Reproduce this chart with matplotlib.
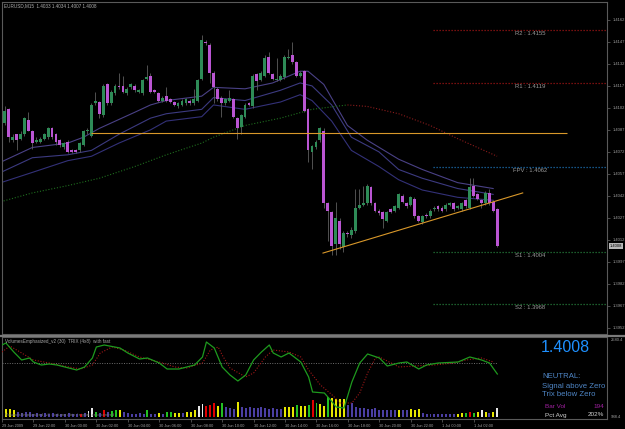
import numpy as np
import matplotlib
matplotlib.use('Agg')
import matplotlib.pyplot as plt
from matplotlib.lines import Line2D

plt.rcParams['font.family'] = ['Liberation Sans', 'DejaVu Sans']

# EURUSD M15, bar 0 = 29 Jun 2009 20:00
opens = [1.4083, 1.4092, 1.4101, 1.4080, 1.4084, 1.4081, 1.4084, 1.4094, 1.4086, 1.4079,
         1.4079, 1.4081, 1.4082, 1.4088, 1.4084, 1.4080, 1.4075, 1.4079, 1.4073, 1.4073,
         1.4073, 1.4077, 1.4086, 1.4083, 1.4105, 1.4106, 1.4097, 1.4118, 1.4105, 1.4112,
         1.4117, 1.4117, 1.4112, 1.4116, 1.4117, 1.4113, 1.4112, 1.4122, 1.4124, 1.4114,
         1.4112, 1.4107, 1.4110, 1.4108, 1.4106, 1.4103, 1.4104, 1.4105, 1.4107, 1.4105,
         1.4107, 1.4122, 1.4147, 1.4145, 1.4126, 1.4115, 1.4109, 1.4105, 1.4107, 1.4108,
         1.4095, 1.4089, 1.4096, 1.4105, 1.4103, 1.4125, 1.4121, 1.4124, 1.4137, 1.4125,
         1.4121, 1.4121, 1.4123, 1.4136, 1.4138, 1.4133, 1.4124, 1.4127, 1.4101, 1.4072,
         1.4075, 1.4080, 1.4086, 1.4037, 1.4031, 1.4009, 1.4025, 1.4007, 1.4017, 1.4015,
         1.4018, 1.4034, 1.4036, 1.4037, 1.4048, 1.4037, 1.4032, 1.4031, 1.4025, 1.4033,
         1.4032, 1.4034, 1.4042, 1.4037, 1.4036, 1.4040, 1.4028, 1.4024, 1.4029, 1.4028,
         1.4033, 1.4035, 1.4034, 1.4033, 1.4036, 1.4037, 1.4034, 1.4033, 1.4039, 1.4034,
         1.4049, 1.4043, 1.4039, 1.4037, 1.4044, 1.4038, 1.4033]
highs = [1.4093, 1.4103, 1.4102, 1.4084, 1.4084, 1.4086, 1.4096, 1.4099, 1.4087, 1.4082,
         1.4082, 1.4085, 1.4089, 1.4089, 1.4085, 1.4081, 1.4079, 1.4080, 1.4074, 1.4074,
         1.4079, 1.4087, 1.4088, 1.4105, 1.4113, 1.4107, 1.4118, 1.4119, 1.4114, 1.4118,
         1.4126, 1.4124, 1.4116, 1.4119, 1.4118, 1.4115, 1.4122, 1.4131, 1.4126, 1.4115,
         1.4113, 1.4110, 1.4116, 1.4109, 1.4107, 1.4106, 1.4108, 1.4109, 1.4108, 1.4115,
         1.4122, 1.4152, 1.4148, 1.4146, 1.4127, 1.4116, 1.4110, 1.4109, 1.4114, 1.4109,
         1.4096, 1.4098, 1.4105, 1.4106, 1.4125, 1.4126, 1.4127, 1.4138, 1.4140, 1.4126,
         1.4136, 1.4125, 1.4138, 1.4142, 1.4147, 1.4134, 1.4127, 1.4128, 1.4102, 1.4077,
         1.4080, 1.4089, 1.4088, 1.4038, 1.4032, 1.4038, 1.4027, 1.4018, 1.4018, 1.4021,
         1.4047, 1.4047, 1.4049, 1.4050, 1.4049, 1.4038, 1.4033, 1.4032, 1.4032, 1.4034,
         1.4036, 1.4044, 1.4043, 1.4038, 1.4042, 1.4041, 1.4029, 1.4029, 1.4030, 1.4033,
         1.4035, 1.4036, 1.4035, 1.4037, 1.4038, 1.4038, 1.4036, 1.4038, 1.4040, 1.4054,
         1.4054, 1.4044, 1.4040, 1.4045, 1.4047, 1.4039, 1.4034]
lows = [1.4082, 1.4090, 1.4079, 1.4079, 1.4073, 1.4080, 1.4083, 1.4086, 1.4074, 1.4078,
        1.4078, 1.4080, 1.4081, 1.4081, 1.4077, 1.4075, 1.4074, 1.4071, 1.4071, 1.4071,
        1.4072, 1.4076, 1.4084, 1.4082, 1.4104, 1.4095, 1.4096, 1.4104, 1.4104, 1.4111,
        1.4115, 1.4112, 1.4111, 1.4115, 1.4113, 1.4112, 1.4111, 1.4121, 1.4112, 1.4112,
        1.4106, 1.4106, 1.4106, 1.4105, 1.4103, 1.4102, 1.4103, 1.4104, 1.4104, 1.4104,
        1.4106, 1.4121, 1.4145, 1.4119, 1.4105, 1.4107, 1.4096, 1.4104, 1.4106, 1.4095,
        1.4081, 1.4084, 1.4095, 1.4103, 1.4102, 1.4114, 1.4120, 1.4123, 1.4125, 1.4121,
        1.4120, 1.4120, 1.4122, 1.4135, 1.4132, 1.4123, 1.4123, 1.4099, 1.4065, 1.4060,
        1.4074, 1.4079, 1.4034, 1.4011, 1.4002, 1.4002, 1.4006, 1.4004, 1.4014, 1.4013,
        1.4017, 1.4033, 1.4035, 1.4036, 1.4036, 1.4031, 1.4029, 1.4020, 1.4024, 1.4030,
        1.4031, 1.4033, 1.4037, 1.4034, 1.4035, 1.4027, 1.4024, 1.4023, 1.4027, 1.4027,
        1.4032, 1.4032, 1.4031, 1.4032, 1.4035, 1.4032, 1.4033, 1.4032, 1.4034, 1.4033,
        1.4041, 1.4039, 1.4034, 1.4036, 1.4036, 1.4031, 1.4007]
closes = [1.4092, 1.4100, 1.4082, 1.4082, 1.4080, 1.4084, 1.4095, 1.4086, 1.4078, 1.4080,
          1.4081, 1.4084, 1.4088, 1.4082, 1.4079, 1.4077, 1.4078, 1.4072, 1.4072, 1.4072,
          1.4078, 1.4086, 1.4087, 1.4104, 1.4107, 1.4098, 1.4117, 1.4105, 1.4113, 1.4117,
          1.4116, 1.4113, 1.4115, 1.4118, 1.4114, 1.4114, 1.4121, 1.4123, 1.4113, 1.4113,
          1.4107, 1.4109, 1.4107, 1.4106, 1.4104, 1.4105, 1.4107, 1.4108, 1.4105, 1.4108,
          1.4121, 1.4148, 1.4146, 1.4126, 1.4116, 1.4108, 1.4105, 1.4108, 1.4109, 1.4096,
          1.4088, 1.4097, 1.4104, 1.4104, 1.4124, 1.4120, 1.4126, 1.4136, 1.4126, 1.4122,
          1.4122, 1.4124, 1.4137, 1.4137, 1.4133, 1.4124, 1.4126, 1.4100, 1.4073, 1.4076,
          1.4079, 1.4088, 1.4037, 1.4032, 1.4008, 1.4027, 1.4009, 1.4017, 1.4016, 1.4019,
          1.4034, 1.4036, 1.4037, 1.4049, 1.4037, 1.4032, 1.4030, 1.4026, 1.4031, 1.4031,
          1.4035, 1.4043, 1.4038, 1.4035, 1.4041, 1.4028, 1.4025, 1.4028, 1.4028, 1.4032,
          1.4034, 1.4033, 1.4032, 1.4036, 1.4037, 1.4033, 1.4035, 1.4037, 1.4035, 1.4048,
          1.4042, 1.4040, 1.4037, 1.4044, 1.4037, 1.4032, 1.4008]

# three short moving averages (bar index, price)
ma1_x = [0, 8, 17, 21, 25, 34, 38, 42, 51, 54, 62, 69, 76, 78, 82, 88, 93, 101, 107, 116, 125]
ma1_y = [1.4065, 1.4075, 1.4078, 1.4082, 1.4088, 1.4099, 1.4104, 1.4107, 1.4110, 1.4116, 1.4115,
         1.4119, 1.4127, 1.4127, 1.4118, 1.4090, 1.4080, 1.4067, 1.4060, 1.4051, 1.4047]
ma2_x = [0, 8, 17, 23, 30, 38, 42, 51, 54, 62, 71, 76, 79, 84, 89, 96, 101, 107, 116, 125]
ma2_y = [1.4058, 1.4068, 1.4070, 1.4073, 1.4084, 1.4095, 1.4098, 1.4101, 1.4109, 1.4107,
         1.4114, 1.4119, 1.4117, 1.4104, 1.4082, 1.4072, 1.4060, 1.4054, 1.4047, 1.4043]
ma3_x = [0, 8, 17, 23, 30, 38, 42, 51, 54, 62, 71, 76, 79, 84, 89, 96, 101, 107, 116, 125]
ma3_y = [1.4051, 1.4058, 1.4066, 1.4069, 1.4078, 1.4087, 1.4093, 1.4096, 1.4104, 1.4101,
         1.4106, 1.4111, 1.4107, 1.4093, 1.4073, 1.4062, 1.4053, 1.4046, 1.4041, 1.4039]

# long moving average: rising part (green) and falling part (red)
sma_up_x = [0, 8, 17, 25, 34, 42, 51, 54, 62, 71, 79, 85, 88]
sma_up_y = [1.4038, 1.4044, 1.4049, 1.4054, 1.4062, 1.4070, 1.4078, 1.4082, 1.4090, 1.4095,
            1.4101, 1.4103, 1.4104]
sma_dn_x = [88, 93, 101, 109, 116, 126]
sma_dn_y = [1.4104, 1.4103, 1.4098, 1.4090, 1.4081, 1.4069]

# drawn lines
hline_price = 1.4085
hline_from, hline_to = 23, 143.7
trend_x = [81.8, 132.5]
trend_y = [1.4003, 1.4044]

pivot_names = ['R2', 'R1', 'FPV', 'S1', 'S2']
pivot_vals = [1.4155, 1.4119, 1.4062, 1.4004, 1.3968]

price_ticks = [1.4162, 1.4147, 1.4132, 1.4117, 1.4102, 1.4087, 1.4072, 1.4057,
               1.4042, 1.4027, 1.4012, 1.3997, 1.3982, 1.3967, 1.3952]

volumes = [151, 172, 172, 151, 108, 86, 108, 108, 65, 86, 65, 86, 65, 86, 65, 65, 65, 86, 65, 65,
           65, 86, 129, 194, 108, 86, 151, 108, 129, 151, 151, 108, 86, 65, 65, 86, 65, 151, 65, 65,
           86, 65, 108, 108, 86, 86, 86, 108, 108, 151, 237, 280, 237, 258, 301, 237, 301, 215, 194, 172,
           323, 215, 194, 215, 194, 194, 215, 194, 172, 194, 172, 172, 215, 215, 215, 258, 237, 237, 258, 366,
           301, 280, 237, 430, 409, 387, 387, 387, 258, 301, 215, 194, 194, 172, 172, 194, 151, 151, 151, 151,
           151, 151, 151, 151, 172, 151, 172, 86, 65, 65, 65, 65, 65, 65, 65, 65, 65, 86, 86, 108,
           86, 108, 151, 108, 86, 108, 194]
vol_class = ("byyy" + "b" * 16 + "r" + "b" + "ww" + "gbrbggy" + "bbbbbb" + "gbby" + "bggyyb"
             + "yyy" + "ww" + "rrr" + "yg" + "bbb" + "y" + "b" * 11 + "yyy" + "gy" + "ygrgyy" + "g"
             + "yyyy" + "b" * 13 + "ybbyyy" + "b" * 9 + "yygrgywybyw")

trix_x = [0, 1, 3, 5, 7, 8, 10, 12, 14, 17, 19, 21, 23, 24, 26, 30, 32, 35, 37, 40,
          42, 45, 49, 51, 52, 54, 56, 58, 60, 62, 64, 66, 68, 69, 71, 73, 76, 78, 79, 82,
          84, 85, 87, 89, 91, 93, 96, 98, 101, 103, 106, 108, 111, 116, 119, 122, 124, 126]
trix_y = [1.8, 2.0, 1.1, 0.3, 0.5, 0.1, -0.2, -0.1, -0.2, -0.5, -0.7, -0.4, 0.5, 1.6, 1.8, 1.5, 1.0, 0.4, 0.5, 0.0,
          -0.6, -0.6, -0.2, 0.6, 2.1, 1.5, -0.4, -1.2, -1.8, -1.2, 0.3, 1.1, 1.8, 1.0, 0.6, 1.0, 0.1, -1.4, -2.9, -3.0,
          -3.9, -4.4, -4.5, -1.9, 0.0, 0.9, 0.5, -0.3, 0.0, 0.1, -0.6, -0.2, 0.0, 0.1, 0.6, 0.3, 0.0, -1.1]
sig_x = [0, 2, 5, 8, 12, 17, 20, 23, 25, 28, 31, 35, 40, 44, 47, 51, 53, 55, 56, 58,
         62, 64, 67, 69, 73, 76, 78, 81, 84, 86, 89, 91, 93, 95, 96, 99, 101, 105, 110, 115,
         118, 122, 125]
sig_y = [1.1, 1.7, 1.0, 0.3, 0.0, -0.4, -0.6, -0.2, 1.0, 1.6, 1.3, 0.6, 0.1, -0.4, -0.5, 0.0, 1.3, 1.6, 0.8, -0.5,
         -1.4, -1.0, 0.6, 1.3, 1.1, 0.6, -0.7, -2.2, -3.2, -4.0, -4.0, -3.0, -1.0, 0.5, 0.6, 0.0, -0.4, -0.3, -0.2, 0.0,
         0.3, 0.5, 0.1]

time_labels = ['29 Jun 2009', '29 Jun 22:00', '30 Jun 00:00', '30 Jun 02:00', '30 Jun 04:00',
               '30 Jun 06:00', '30 Jun 08:00', '30 Jun 10:00', '30 Jun 12:00', '30 Jun 14:00',
               '30 Jun 16:00', '30 Jun 18:00', '30 Jun 20:00', '30 Jun 22:00', '1 Jul 00:00',
               '1 Jul 02:00']

W, H = 625, 429
GREY = '#a0a0a0'


def box(x0, y0, x1, y1):
    return [x0 / W, 1 - y1 / H, (x1 - x0) / W, (y1 - y0) / H]


fig = plt.figure(figsize=(W / 100, H / 100), dpi=100, facecolor='black')

# ---- price panel
ax = fig.add_axes(box(2, 2, 607, 334))
ax.set_facecolor('black')
ax.set_xlim(0.3, 153.9)
ax.set_ylim(1.39478, 1.41742)

o = np.array(opens)
h = np.array(highs)
l = np.array(lows)
c = np.array(closes)
idx = np.arange(len(o))
up = c >= o
ax.vlines(idx, l, h, color='#5e5e5e', lw=0.6, zorder=2)
ax.bar(idx, np.maximum(np.abs(c - o), 0.00006), bottom=np.minimum(o, c), width=0.72,
       color=np.where(up, '#2e8b57', '#ba55d3'), linewidth=0, zorder=3)

ax.plot(ma1_x, ma1_y, color='#4a4186', lw=0.8, zorder=1)
ax.plot(ma2_x, ma2_y, color='#3c3a80', lw=0.8, zorder=1)
ax.plot(ma3_x, ma3_y, color='#333178', lw=0.8, zorder=1)
ax.plot(sma_up_x, sma_up_y, color='#1f6e1f', lw=0.8, ls=(0, (1, 1.6)), zorder=1)
ax.plot(sma_dn_x, sma_dn_y, color='#8c1c1c', lw=0.8, ls=(0, (1, 1.6)), zorder=1)

ax.hlines(hline_price, hline_from, hline_to, color='#d9982a', lw=0.8, zorder=4)
ax.plot(trend_x, trend_y, color='#d9982a', lw=0.8, zorder=4)

pivot_colors = ['#9b1515', '#9b1515', '#1d6fb0', '#257a3a', '#257a3a']
for name, val, col in zip(pivot_names, pivot_vals, pivot_colors):
    ax.hlines(val, 109.7, 154, colors=col, lw=0.9, linestyles=(0, (1, 1.4)))
    ax.annotate(f'{name} : {val:.4f}', (134.3, val), xytext=(0, -0.8), textcoords='offset points',
                ha='center', va='top', fontsize=4.2, color='#9a9a9a')

ax.yaxis.tick_right()
ax.set_yticks(price_ticks)
ax.set_yticklabels([f'{p:.4f}' for p in price_ticks])
ax.tick_params(axis='y', colors='#6a6a6a', labelcolor=GREY, labelsize=3, length=2.5, width=0.5, pad=1.5)
ax.set_xticks([])
for s in ax.spines.values():
    s.set_color('#5a5a5a')
    s.set_linewidth(0.8)

ax.text(1.004, closes[-1], f'{closes[-1]:.4f}', transform=ax.get_yaxis_transform(),
        ha='left', va='center', fontsize=3, color='black',
        bbox=dict(boxstyle='square,pad=0.2', fc='#b8b8b8', ec='none'))
ax.text(0.004, 0.996, 'EURUSD,M15  1.4033 1.4034 1.4007 1.4008', transform=ax.transAxes,
        ha='left', va='top', fontsize=3.3, color='#b0b0b0')

# ---- indicator panel
ax2 = fig.add_axes(box(2, 337, 607, 419))
ax2.set_facecolor('black')
ax2.set_xlim(0.3, 153.9)
ax2.set_ylim(-43, 1725)
vcol = {'b': '#4b3fa3', 'y': '#e6e600', 'g': '#22c022', 'r': '#e00000', 'w': '#e8e8e8'}
ax2.bar(np.arange(len(volumes)), volumes, width=0.5, color=[vcol[k] for k in vol_class], linewidth=0)
ax2.set_yticks([])
ax2.set_xticks(range(0, 121, 8))
ax2.set_xticklabels(time_labels)
for t in ax2.get_xticklabels():
    t.set_ha('left')
ax2.tick_params(axis='x', colors='#6a6a6a', labelcolor=GREY, labelsize=2.8, length=2.5, width=0.5, pad=1.2)
for s in ax2.spines.values():
    s.set_color('#5a5a5a')
    s.set_linewidth(0.8)

ax3 = ax2.twinx()
ax3.set_ylim(-5.6, 2.6)
ax3.set_yticks([])
ax3.hlines(0, 0, 126, color='#6e6e6e', lw=0.7, linestyles=(0, (1, 1.5)))
ax3.plot(sig_x, sig_y, color='#a01818', lw=0.8, ls=(0, (1, 1.5)))
ax3.plot(trix_x, trix_y, color='#1e9a1e', lw=0.9)
for s in ax3.spines.values():
    s.set_visible(False)

# separator between panels
fig.add_artist(Line2D([0, 1], [1 - 335.5 / H] * 2, color='#7a7a7a', lw=1.6))


def ftext(x, y, s, **kw):
    fig.text(x / W, 1 - y / H, s, **kw)


ftext(5, 341, 'VolumesEmphasized_v2 (30)  TRIX (4x8)  with fast', fontsize=3.3, color='#a8a8a8', va='center')
ftext(5, 415, 'VolumesEmphasized_v2 : volume / trix / signal, zero centred', fontsize=3,
      color='#707070', va='center')
ftext(611, 340, '2580.4', fontsize=3, color=GREY, va='center')
ftext(611, 417, '988.4', fontsize=3, color=GREY, va='center')
ftext(541, 347, f'{closes[-1]:.4f}', fontsize=11.5, color='#1e90ff', va='center')
ftext(542, 377, 'NEUTRAL:', fontsize=5.6, color='#4f86c6', va='center')
ftext(542, 386, 'Signal above Zero', fontsize=5.6, color='#4f86c6', va='center')
ftext(542, 395, 'Trix below Zero', fontsize=5.6, color='#4f86c6', va='center')
ftext(545, 407, 'Bar Vol', fontsize=4.6, color='#a020a0', va='center')
ftext(604, 407, f'{volumes[-1]}', fontsize=4.6, color='#a020a0', va='center', ha='right')
ftext(545, 415, 'Pct Avg', fontsize=4.6, color='#d0d0d0', va='center')
ftext(604, 415, '202%', fontsize=4.6, color='#d0d0d0', va='center', ha='right')

fig.savefig('out.png', dpi=100, facecolor='black')
